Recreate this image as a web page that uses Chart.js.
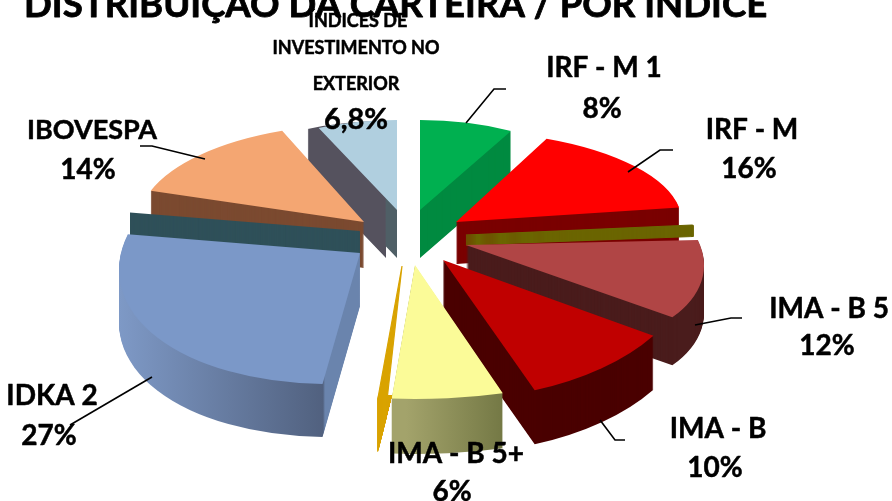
<!DOCTYPE html>
<html lang="pt-BR">
<head>
  <meta charset="UTF-8">
  <title>Distribuição da carteira / por índice</title>
  <script src="https://cdn.jsdelivr.net/npm/chart.js"></script>
  <style>
    html, body { margin: 0; padding: 0; background: #fff; overflow: hidden; }
    #wrap { width: 892px; height: 501px; }
  </style>
</head>
<body>
  <div id="wrap"><canvas id="pieChart" width="892" height="501"></canvas></div>

  <script>
    // Data, clockwise from the top. The two small slices have no label in the picture
    const categories = ['IRF - M 1', 'IRF - M', 'Sem rótulo A', 'IMA - B 5', 'IMA - B', 'IMA - B 5+', 'Sem rótulo B', 'IDKA 2', 'IBOVESPA', 'ÍNDICES DE INVESTIMENTO NO EXTERIOR'];
    const shares = [8, 16, 0.3, 12, 10, 6, 0.5, 27, 14, 6.8];
    const shareLabels = ['8%', '16%', '', '12%', '10%', '6%', '', '27%', '14%', '6,8%'];
    const chartTitle = 'DISTRIBUIÇÃO DA CARTEIRA / POR ÍNDICE';

    // Colours per slice
    const topColors = ['#00b050', '#ff0000', '#6b6500', '#b04545', '#c00000', '#fbfb98', '#d9a300', '#7b98c8', '#f4a672', '#b0cfdf'];
    const wallColors = ['#008a40', '#7a0000', '#6b6500', '#4a1c1c', '#4a0000', '#8a8a55', '#d9a300', '#6a84ad', '#7b4a30', '#55525e'];
    // Shaded walls: slice index -> screen x from, x to, left colour, right colour, colour past the end
    const wallShades = {
      5: [392, 502, '#a3a36b', '#6e7340', '#6e7340'],
      7: [119, 323, '#7e99c6', '#51617f', '#6a84ad'],
      9: [302, 385, '#55525e', '#55525e', '#4f5f66']
    };

    // Fake 3D projection per slice: tip, radii on screen, turn in degrees, tilt, wall depth
    const projection = [
      { x: 420, y: 210, rx: 190, ry: 90, turn: 0, tilt: 0, depth: 48 },
      { x: 456, y: 222, rx: 226, ry: 91, turn: -5, tilt: 0, depth: 42 },
      { x: 466, y: 235, rx: 228, ry: 80, turn: -3, tilt: 0, depth: 10, edge: 3 },
      { x: 466, y: 245, rx: 238, ry: 110, turn: -10, tilt: 0.085, depth: 48 },
      { x: 443, y: 260, rx: 250, ry: 140, turn: -7.2, tilt: 0, depth: 54 },
      { x: 415, y: 265, rx: 300, ry: 134, turn: -2.7, tilt: 0, depth: 55 },
      { x: 402, y: 266, rx: 300, ry: 134, turn: -4.3, tilt: 0, depth: 52, edge: 1 },
      { x: 360, y: 253, rx: 241, ry: 130, turn: 0, tilt: -0.07, depth: 53 },
      { x: 364, y: 222, rx: 225, ry: 98, turn: 3, tilt: 0, depth: 46 },
      { x: 397, y: 210, rx: 190, ry: 90, turn: 0, tilt: 0, depth: 48 }
    ];
    const drawOrder = [9, 8, 7, 0, 1, 2, 3, 4, 5, 6];

    // Text placement: [text, centre x, baseline y, font size]
    const labelPlacement = [
      ['IRF - M 1', 604, 77, 28], ['8%', 602, 118, 28],
      ['IRF - M', 752, 139, 28], ['16%', 749, 178, 28],
      ['IMA - B 5', 829, 318, 28], ['12%', 827, 355, 28],
      ['IMA - B', 718, 438, 28], ['10%', 715, 477, 28],
      ['IMA - B 5+', 456, 463, 28], ['6%', 452, 501, 28],
      ['IDKA 2', 52, 405, 28], ['27%', 49, 445, 28],
      ['IBOVESPA', 92, 139, 27], ['14%', 88, 179, 28],
      ['ÍNDICES DE', 358, 27, 18], ['INVESTIMENTO NO', 356, 54, 18], ['EXTERIOR', 356, 90, 18], ['6,8%', 356, 129, 29]
    ];

    // Leader lines from the slices to their labels
    const leaders = [
      [[466, 123], [494, 89], [506, 89]],
      [[628, 172], [660, 150], [673, 150]],
      [[695, 325], [731, 318], [742, 318]],
      [[600, 420], [615, 440], [625, 440]],
      [[152, 377], [70, 425]],
      [[205, 159], [152, 146], [140, 146]]
    ];

    function drawSlice(ctx, arc, p, fill, dx, dy) {
      const saved = arc.options;
      const R = arc.outerRadius;
      ctx.save();
      ctx.translate(p.x + dx, p.y + dy);
      ctx.transform(1, p.tilt, 0, 1, 0, 0);
      ctx.scale(p.rx / R, p.ry / R);
      ctx.rotate(p.turn * Math.PI / 180);
      ctx.translate(-arc.x, -arc.y);
      arc.options = Object.assign({}, saved, { backgroundColor: fill, borderColor: fill, borderWidth: p.edge || 0 });
      arc.draw(ctx);
      arc.options = saved;
      ctx.restore();
    }

    // Wall colour can be a left-to-right shade; built in the slice's local space
    function wallFill(ctx, arc, p, i) {
      const shade = wallShades[i];
      if (!shade) return wallColors[i];
      const k = arc.outerRadius / p.rx;
      const from = arc.x + (shade[0] - p.x) * k;
      const to = arc.x + (shade[1] - p.x) * k;
      const far = to + 200 * k;
      const g = ctx.createLinearGradient(from, 0, far, 0);
      const t = (to - from) / (far - from);
      g.addColorStop(0, shade[2]);
      g.addColorStop(t, shade[3]);
      g.addColorStop(Math.min(t + 0.005, 1), shade[4]);
      g.addColorStop(1, shade[4]);
      return g;
    }

    const pie3d = {
      id: 'pie3d',
      beforeDatasetDraw(chart) {
        const ctx = chart.ctx;
        const arcs = chart.getDatasetMeta(0).data;
        drawOrder.forEach(i => {
          const p = projection[i];
          // the big slice shows its cut wall above the top face, only along the straight edge
          if (i === 7) {
            ctx.save();
            ctx.beginPath();
            ctx.rect(130, 0, 400, 501);
            ctx.clip();
            for (let d = 22; d > 0; d--) drawSlice(ctx, arcs[i], p, '#2f5059', 0, -d);
            ctx.restore();
          }
          // the last slice has a second, shifted wall
          if (i === 9) {
            for (let d = 48; d > 0; d--) drawSlice(ctx, arcs[i], p, '#55525e', -11, d);
          }
          const wall = wallFill(ctx, arcs[i], p, i);
          ctx.save();
          // the sliver's wall runs out to a point
          if (i === 6) {
            ctx.beginPath();
            ctx.moveTo(376, 395);
            ctx.lineTo(392, 395);
            ctx.lineTo(378, 452);
            ctx.lineTo(376, 452);
            ctx.closePath();
            ctx.clip();
          }
          for (let d = p.depth; d > 0; d--) drawSlice(ctx, arcs[i], p, wall, 0, d);
          ctx.restore();
          drawSlice(ctx, arcs[i], p, topColors[i], 0, 0);
        });
        return false;
      },
      afterDraw(chart) {
        const ctx = chart.ctx;
        ctx.save();
        ctx.strokeStyle = '#000';
        ctx.lineWidth = 1.6;
        leaders.forEach(line => {
          ctx.beginPath();
          line.forEach((pt, n) => n ? ctx.lineTo(pt[0], pt[1]) : ctx.moveTo(pt[0], pt[1]));
          ctx.stroke();
        });
        ctx.fillStyle = '#000';
        ctx.lineJoin = 'round';
        ctx.textAlign = 'left';
        ctx.lineWidth = 0.8;
        ctx.font = 'bold 36.6px Lato';
        ctx.fillText(chartTitle, 24, 17);
        ctx.strokeText(chartTitle, 24, 17);
        ctx.textAlign = 'center';
        ctx.lineWidth = 0.5;
        labelPlacement.forEach(l => {
          ctx.font = 'bold ' + l[3] + 'px Lato';
          ctx.fillText(l[0], l[1], l[2]);
          ctx.strokeText(l[0], l[1], l[2]);
        });
        ctx.restore();
      }
    };

    new Chart(document.getElementById('pieChart'), {
      type: 'pie',
      data: {
        labels: categories,
        datasets: [{ data: shares, backgroundColor: topColors, borderWidth: 0 }]
      },
      options: {
        responsive: false,
        animation: false,
        plugins: { legend: { display: false }, tooltip: { enabled: false } }
      },
      plugins: [pie3d]
    });
  </script>
</body>
</html>
